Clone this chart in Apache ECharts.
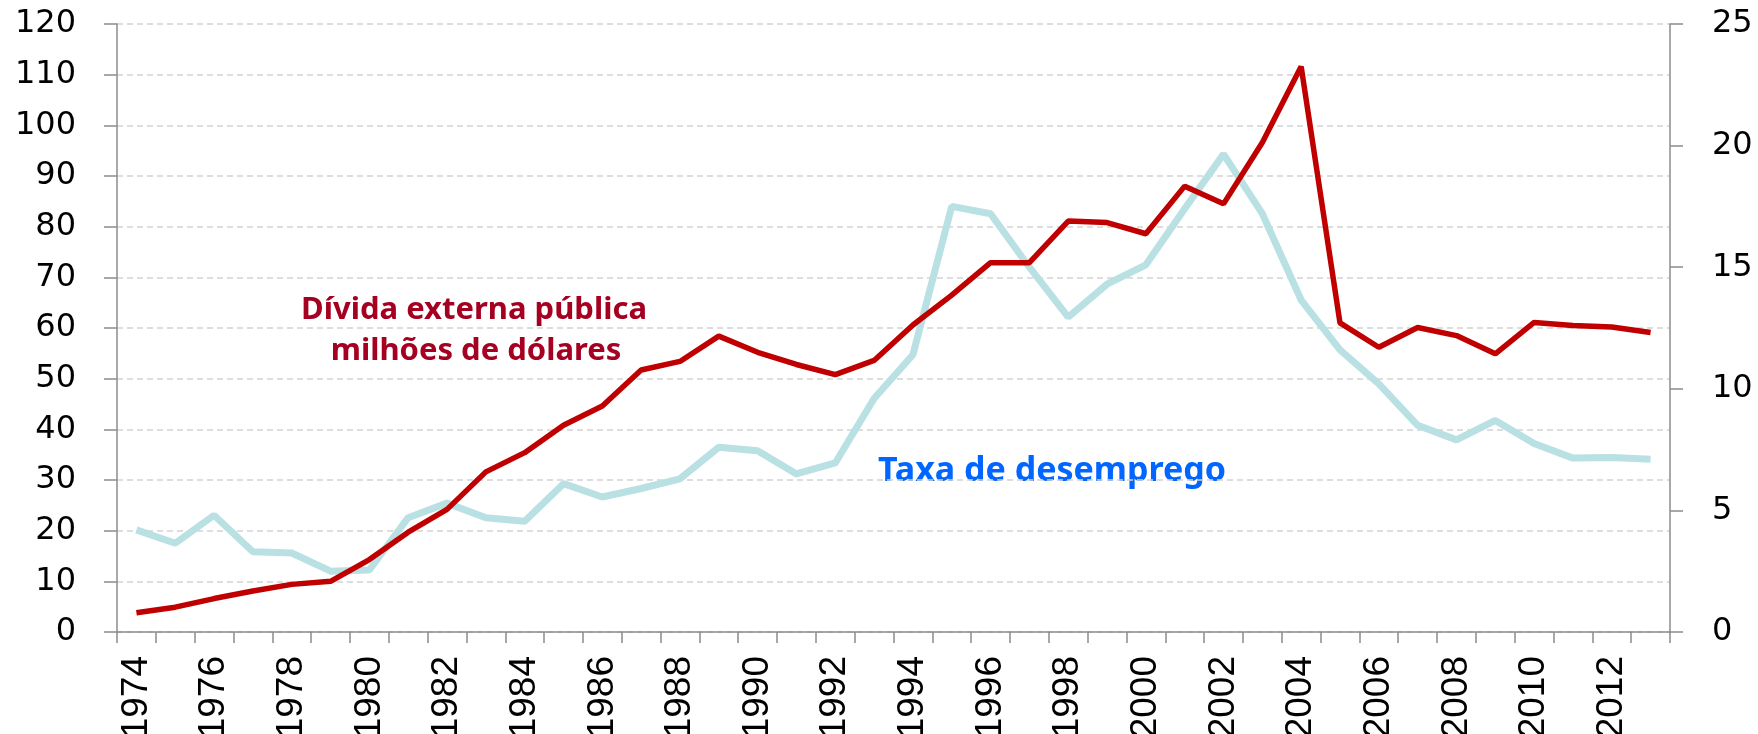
<!DOCTYPE html>
<html>
<head>
<meta charset="utf-8">
<title>Dívida externa e desemprego</title>
<script src="https://cdn.jsdelivr.net/npm/echarts@6/dist/echarts.min.js"></script>
<style>
    html, body { margin: 0; padding: 0; background: #fff; }
    #chart { width: 1758px; height: 734px; }
</style>
</head>
<body>
<div id="chart"></div>
<script>
    // anos 1974-2013
    var years = ['1974', '1975', '1976', '1977', '1978', '1979', '1980', '1981', '1982', '1983',
        '1984', '1985', '1986', '1987', '1988', '1989', '1990', '1991', '1992', '1993',
        '1994', '1995', '1996', '1997', '1998', '1999', '2000', '2001', '2002', '2003',
        '2004', '2005', '2006', '2007', '2008', '2009', '2010', '2011', '2012', '2013'];

    // divida externa publica (eixo esquerdo)
    var divida = [3.8, 4.9, 6.6, 8.1, 9.4, 10.0, 14.3, 19.7, 24.2, 31.6,
        35.4, 40.8, 44.6, 51.7, 53.4, 58.4, 55.2, 52.8, 50.8, 53.6,
        60.6, 66.5, 72.9, 72.9, 81.1, 80.8, 78.6, 88.0, 84.5, 96.6,
        111.6, 61.0, 56.2, 60.1, 58.5, 54.9, 61.1, 60.5, 60.2, 59.1];

    // taxa de desemprego (eixo direito)
    var desemprego = [4.2, 3.65, 4.8, 3.3, 3.25, 2.5, 2.55, 4.7, 5.3, 4.7,
        4.55, 6.1, 5.55, 5.9, 6.3, 7.6, 7.45, 6.5, 6.95, 9.6,
        11.4, 17.5, 17.2, 15.0, 12.95, 14.3, 15.1, 17.4, 19.65, 17.2,
        13.65, 11.6, 10.2, 8.5, 7.9, 8.7, 7.75, 7.15, 7.18, 7.1];

    var leftTicks = [0, 120, 10];
    var rightTicks = [0, 25, 5];

    var myChart = echarts.init(document.getElementById('chart'));

    var axisGray = '#8c8c8c';

    option = {
        animation: false,
        grid: {
            left: 117,
            right: 88,
            top: 24,
            bottom: 102,
            containLabel: false,
            outerBoundsMode: 'none'
        },
        xAxis: {
            type: 'category',
            data: years,
            boundaryGap: true,
            axisLine: { lineStyle: { color: axisGray, width: 1.5 } },
            axisTick: {
                show: true,
                interval: 0,
                length: 11,
                lineStyle: { color: axisGray, width: 1.5 }
            },
            axisLabel: {
                interval: 1,
                rotate: 90,
                margin: 24,
                fontFamily: 'Liberation Sans',
                fontSize: 37,
                color: '#000'
            }
        },
        yAxis: [
            {
                type: 'value',
                min: leftTicks[0],
                max: leftTicks[1],
                interval: leftTicks[2],
                axisLine: { show: true, lineStyle: { color: axisGray, width: 1.5 } },
                axisTick: { show: true, length: 13, lineStyle: { color: axisGray, width: 1.5 } },
                axisLabel: {
                    margin: 41,
                    fontFamily: 'DejaVu Sans',
                    fontSize: 32,
                    color: '#000'
                },
                splitLine: {
                    show: true,
                    lineStyle: { color: '#d4d4d4', width: 1.5, type: [6, 4] }
                }
            },
            {
                type: 'value',
                min: rightTicks[0],
                max: rightTicks[1],
                interval: rightTicks[2],
                position: 'right',
                axisLine: { show: true, lineStyle: { color: axisGray, width: 1.5 } },
                axisTick: { show: true, length: 13, lineStyle: { color: axisGray, width: 1.5 } },
                axisLabel: {
                    margin: 42,
                    fontFamily: 'DejaVu Sans',
                    fontSize: 32,
                    color: '#000'
                },
                splitLine: { show: false }
            }
        ],
        graphic: [
            {
                type: 'text',
                x: 474,
                y: 310,
                style: {
                    text: 'Dívida externa pública',
                    align: 'center',
                    verticalAlign: 'middle',
                    fill: '#a50021',
                    font: 'bold 31px "Noto Sans"'
                }
            },
            {
                type: 'text',
                x: 476,
                y: 351,
                style: {
                    text: 'milhões de dólares',
                    align: 'center',
                    verticalAlign: 'middle',
                    fill: '#a50021',
                    font: 'bold 31px "Noto Sans"'
                }
            },
            {
                type: 'text',
                x: 1052,
                y: 471,
                style: {
                    text: 'Taxa de desemprego',
                    align: 'center',
                    verticalAlign: 'middle',
                    fill: '#0066ff',
                    font: 'bold 34px "Noto Sans"'
                }
            }
        ],
        series: [
            {
                name: 'Taxa de desemprego',
                type: 'line',
                yAxisIndex: 1,
                data: desemprego,
                showSymbol: false,
                lineStyle: { color: '#b9e0e3', width: 7 },
                z: 2
            },
            {
                name: 'Dívida externa pública',
                type: 'line',
                yAxisIndex: 0,
                data: divida,
                showSymbol: false,
                lineStyle: { color: '#c00000', width: 5.5 },
                z: 3
            }
        ]
    };

    myChart.setOption(option);
</script>
</body>
</html>
